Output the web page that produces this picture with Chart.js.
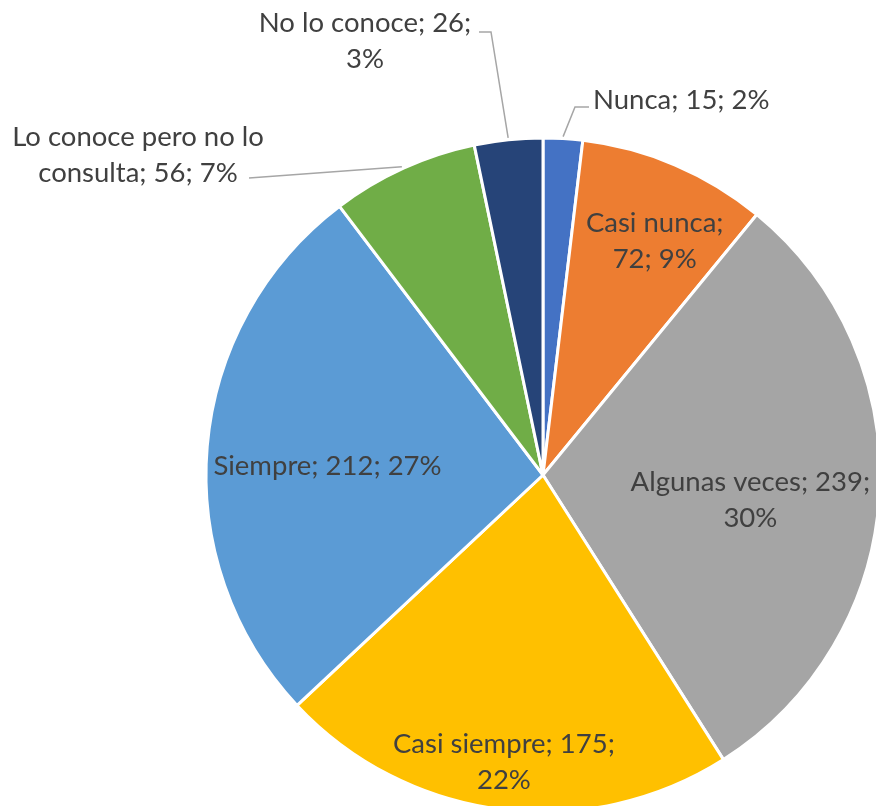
<!DOCTYPE html>
<html>
<head>
<meta charset="utf-8">
<script src="https://cdn.jsdelivr.net/npm/chart.js@4.4.1/dist/chart.umd.min.js"></script>
<style>
  html, body { margin: 0; padding: 0; background: #fff; overflow: hidden; }
  #wrap { width: 876px; height: 806px; }
</style>
</head>
<body>
<div id="wrap"><canvas id="myChart" width="876" height="806"></canvas></div>
<script>
// data
const categories = ["Nunca", "Casi nunca", "Algunas veces", "Casi siempre", "Siempre", "Lo conoce pero no lo consulta", "No lo conoce"];
const counts = [15, 72, 239, 175, 212, 56, 26];
const percents = ["2%", "9%", "30%", "22%", "27%", "7%", "3%"];
const colors = ["#4472C4", "#ED7D31", "#A5A5A5", "#FFC000", "#5B9BD5", "#70AD47", "#264478"];

// how each label is broken in lines (same text as categories; counts; percents)
const labelLines = [
  ["Nunca; 15; 2%"],
  ["Casi nunca;", "72; 9%"],
  ["Algunas veces; 239;", "30%"],
  ["Casi siempre; 175;", "22%"],
  ["Siempre; 212; 27%"],
  ["Lo conoce pero no lo", "consulta; 56; 7%"],
  ["No lo conoce; 26;", "3%"]
];

const FONT = "27.5px Lato";
const TEXT = "#404040";
const LINE_H = 36;

// inside labels: angle offset from slice middle (deg) and fraction of radius
const inside = {
  1: { da: 2.4, f: 0.77 },
  2: { da: 3.5, f: 0.62 },
  3: { da: 0.5, f: 0.86 },
  4: { da: -2.4, f: 0.64 }
};
// outside labels: leader path (px from pie centre, after edge point) and text anchor
const outside = {
  0: { edge: 3.4, path: [[32, -368], [46, -368]], tx: 50, ty: -375, align: "left" },
  6: { edge: 354.1, path: [[-52, -443], [-64, -443]], tx: -178, ty: -452, align: "center" },
  5: { edge: 335.4, path: [[-294, -297]], tx: -405, ty: -338, align: "center" }
};

const pieLabels = {
  id: "pieLabels",
  afterDatasetsDraw(chart) {
    const ctx = chart.ctx;
    const arcs = chart.getDatasetMeta(0).data;
    ctx.save();
    ctx.font = FONT;
    ctx.fillStyle = TEXT;
    ctx.textBaseline = "middle";
    arcs.forEach((arc, i) => {
      const cx = arc.x, cy = arc.y, r = arc.outerRadius;
      const lines = labelLines[i];
      if (inside[i]) {
        const mid = (arc.startAngle + arc.endAngle) / 2 + inside[i].da * Math.PI / 180;
        const x = cx + Math.cos(mid) * r * inside[i].f;
        const y = cy + Math.sin(mid) * r * inside[i].f;
        ctx.textAlign = "center";
        const y0 = y - (lines.length - 1) * LINE_H / 2;
        lines.forEach((t, k) => ctx.fillText(t, x, y0 + k * LINE_H));
      } else if (outside[i]) {
        const o = outside[i];
        const a = (o.edge - 90) * Math.PI / 180;
        ctx.strokeStyle = "#A6A6A6";
        ctx.lineWidth = 1.5;
        ctx.beginPath();
        ctx.moveTo(cx + Math.cos(a) * (r + 2), cy + Math.sin(a) * (r + 2));
        o.path.forEach(p => ctx.lineTo(cx + p[0], cy + p[1]));
        ctx.stroke();
        ctx.textAlign = o.align;
        lines.forEach((t, k) => ctx.fillText(t, cx + o.tx, cy + o.ty + k * LINE_H));
      }
    });
    ctx.restore();
  }
};

const data = {
  labels: categories,
  datasets: [{
    data: counts,
    backgroundColor: colors,
    borderColor: "#ffffff",
    borderWidth: 3,
    clip: false
  }]
};

const config = {
  type: "pie",
  data: data,
  options: {
    responsive: false,
    animation: false,
    radius: 337,
    layout: { padding: { left: 210, top: 144, right: 0, bottom: 0 } },
    plugins: {
      legend: { display: false },
      tooltip: { enabled: false }
    }
  },
  plugins: [pieLabels]
};

const myChart = new Chart(document.getElementById("myChart"), config);
</script>
</body>
</html>
